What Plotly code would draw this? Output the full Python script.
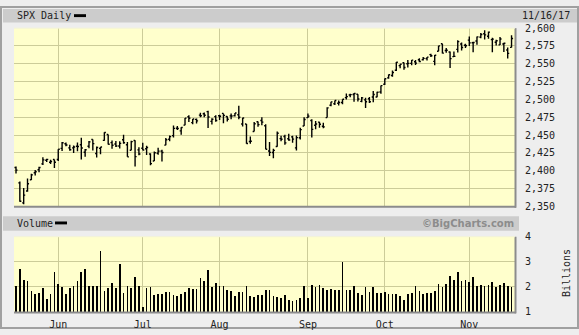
import plotly.graph_objects as go

W, H = 579, 335

dates = [
 "2017-05-16","2017-05-17","2017-05-18","2017-05-19","2017-05-22","2017-05-23","2017-05-24","2017-05-25","2017-05-26","2017-05-30","2017-05-31",
 "2017-06-01","2017-06-02","2017-06-05","2017-06-06","2017-06-07","2017-06-08","2017-06-09","2017-06-12","2017-06-13","2017-06-14","2017-06-15","2017-06-16",
 "2017-06-19","2017-06-20","2017-06-21","2017-06-22","2017-06-23","2017-06-26","2017-06-27","2017-06-28","2017-06-29","2017-06-30",
 "2017-07-03","2017-07-05","2017-07-06","2017-07-07","2017-07-10","2017-07-11","2017-07-12","2017-07-13","2017-07-14","2017-07-17",
 "2017-07-18","2017-07-19","2017-07-20","2017-07-21","2017-07-24","2017-07-25","2017-07-26","2017-07-27","2017-07-28","2017-07-31",
 "2017-08-01","2017-08-02","2017-08-03","2017-08-04","2017-08-07","2017-08-08","2017-08-09","2017-08-10","2017-08-11","2017-08-14",
 "2017-08-15","2017-08-16","2017-08-17","2017-08-18","2017-08-21","2017-08-22","2017-08-23","2017-08-24","2017-08-25","2017-08-28",
 "2017-08-29","2017-08-30","2017-08-31",
 "2017-09-01","2017-09-05","2017-09-06","2017-09-07","2017-09-08","2017-09-11","2017-09-12","2017-09-13","2017-09-14","2017-09-15",
 "2017-09-18","2017-09-19","2017-09-20","2017-09-21","2017-09-22","2017-09-25","2017-09-26","2017-09-27","2017-09-28","2017-09-29",
 "2017-10-02","2017-10-03","2017-10-04","2017-10-05","2017-10-06","2017-10-09","2017-10-10","2017-10-11","2017-10-12","2017-10-13",
 "2017-10-16","2017-10-17","2017-10-18","2017-10-19","2017-10-20","2017-10-23","2017-10-24","2017-10-25","2017-10-26","2017-10-27",
 "2017-10-30","2017-10-31",
 "2017-11-01","2017-11-02","2017-11-03","2017-11-06","2017-11-07","2017-11-08","2017-11-09","2017-11-10","2017-11-13","2017-11-14",
 "2017-11-15","2017-11-16",
]

opens = [2404.5,2382.9,2354.7,2371.4,2387.2,2397.0,2401.4,2409.5,2414.5,2411.7,2415.6,
 2415.6,2431.3,2437.8,2431.9,2432.0,2434.3,2436.4,2425.9,2434.2,2443.8,2424.1,2431.2,
 2442.5,2450.7,2439.3,2437.4,2434.7,2443.3,2436.3,2428.7,2442.4,2429.2,
 2431.4,2430.8,2423.4,2413.5,2424.5,2427.4,2435.8,2444.0,2449.2,2459.5,
 2455.9,2463.9,2475.6,2467.4,2472.0,2477.9,2479.9,2482.8,2469.1,2475.9,
 2477.1,2480.4,2476.0,2476.9,2477.1,2478.4,2465.4,2465.4,2441.0,2455.0,
 2468.7,2470.5,2463.0,2427.6,2425.5,2433.8,2444.9,2447.9,2444.7,2447.4,
 2431.9,2446.1,2462.7,
 2474.4,2470.4,2463.8,2468.1,2462.3,2474.5,2491.9,2493.9,2494.6,2495.7,
 2502.5,2506.3,2506.8,2507.2,2497.3,2499.4,2501.0,2503.3,2503.4,2510.4,
 2521.2,2530.3,2533.5,2540.9,2547.4,2551.4,2550.0,2550.6,2552.9,2555.7,
 2555.6,2557.2,2562.9,2553.4,2567.6,2578.1,2568.7,2566.5,2560.1,2570.3,
 2577.8,2576.0,
 2583.2,2579.5,2581.9,2587.5,2592.1,2588.7,2584.0,2580.2,2576.5,2577.8,
 2569.4,2573.0]

highs = [2405.8,2384.9,2375.7,2389.1,2395.5,2400.9,2405.6,2418.7,2416.7,2415.3,2415.8,
 2430.1,2440.2,2439.5,2436.2,2435.3,2439.6,2446.2,2430.4,2441.5,2443.9,2433.9,2433.2,
 2453.8,2450.7,2442.2,2441.6,2441.4,2450.4,2440.2,2442.0,2442.7,2432.7,
 2439.2,2434.9,2424.3,2426.9,2432.0,2429.3,2445.8,2449.3,2463.5,2462.8,
 2460.9,2473.8,2477.6,2472.5,2473.1,2481.2,2481.7,2484.0,2473.5,2477.9,
 2478.5,2480.4,2476.3,2480.4,2480.9,2491.0,2474.4,2465.4,2448.1,2468.2,
 2468.9,2474.9,2465.0,2440.3,2430.6,2454.8,2448.9,2450.4,2451.9,2449.1,
 2449.2,2460.3,2475.0,
 2480.4,2472.0,2469.6,2468.6,2467.1,2489.0,2496.8,2498.4,2498.4,2500.2,
 2508.3,2507.8,2508.9,2507.2,2503.5,2502.5,2503.5,2511.8,2510.8,2519.4,
 2529.2,2535.1,2540.5,2552.5,2549.4,2551.8,2555.2,2555.2,2555.3,2557.7,
 2559.5,2559.7,2564.1,2562.4,2575.4,2578.3,2572.2,2567.4,2567.1,2583.0,
 2580.0,2578.3,
 2588.4,2581.1,2588.4,2593.4,2597.0,2595.5,2586.5,2583.8,2587.7,2579.7,
 2572.8,2590.1]

lows = [2396.0,2356.2,2352.7,2370.4,2386.9,2393.3,2397.9,2408.0,2412.2,2409.4,2403.6,
 2413.5,2427.7,2434.3,2428.1,2424.8,2427.4,2415.7,2419.4,2431.3,2428.3,2418.5,2422.9,
 2441.8,2436.6,2430.7,2433.3,2431.1,2437.6,2419.4,2428.7,2405.7,2421.6,
 2428.7,2422.1,2407.7,2413.5,2422.3,2412.8,2435.8,2441.4,2446.7,2457.2,
 2450.3,2463.9,2468.4,2465.1,2466.3,2474.9,2474.9,2459.9,2464.7,2468.5,
 2471.1,2466.5,2468.9,2472.1,2475.9,2472.1,2462.1,2437.8,2437.9,2455.0,
 2461.6,2463.9,2430.0,2420.7,2417.4,2433.7,2441.4,2436.2,2441.9,2439.0,
 2428.2,2443.8,2462.7,
 2473.9,2446.6,2458.0,2460.3,2459.4,2474.5,2490.4,2492.1,2491.4,2493.2,
 2499.9,2503.2,2496.7,2497.0,2496.1,2488.0,2495.1,2495.9,2502.9,2508.0,
 2520.4,2528.9,2531.8,2540.0,2543.8,2541.6,2544.9,2548.0,2548.3,2552.1,
 2554.5,2554.7,2559.7,2547.9,2567.6,2564.3,2565.6,2544.0,2559.8,2565.9,
 2568.7,2572.2,
 2574.9,2566.2,2576.8,2585.7,2584.1,2585.0,2566.3,2575.6,2576.5,2566.6,
 2557.5,2573.0]

closes = [2400.7,2357.0,2365.7,2381.7,2394.0,2398.4,2404.4,2415.1,2415.8,2412.9,2411.8,
 2430.1,2439.1,2436.1,2429.3,2433.1,2433.8,2431.8,2429.4,2440.4,2437.9,2432.5,2433.2,
 2453.5,2437.0,2435.6,2434.5,2438.3,2439.1,2419.4,2440.7,2419.7,2423.4,
 2429.0,2432.5,2409.8,2425.2,2427.4,2425.5,2443.3,2447.8,2459.3,2459.1,
 2460.6,2473.8,2473.5,2472.5,2469.9,2477.1,2477.8,2475.4,2472.1,2470.3,
 2476.4,2477.6,2472.2,2476.8,2480.9,2474.9,2474.0,2438.2,2441.3,2465.8,
 2464.6,2468.1,2430.0,2425.6,2428.4,2452.5,2444.0,2439.0,2443.1,2444.2,
 2446.3,2457.6,2471.7,
 2476.6,2457.9,2465.5,2465.1,2461.4,2488.1,2496.5,2498.4,2495.6,2500.2,
 2503.9,2506.7,2508.2,2500.6,2502.2,2496.7,2496.8,2507.0,2510.1,2519.4,
 2529.1,2534.6,2537.7,2552.1,2549.3,2544.7,2550.6,2555.2,2550.9,2553.2,
 2557.6,2559.4,2561.3,2562.1,2575.2,2565.0,2569.1,2557.2,2560.4,2581.1,
 2572.8,2575.3,
 2579.4,2579.9,2587.8,2591.1,2590.6,2594.4,2584.6,2582.3,2584.8,2578.9,
 2564.6,2585.6]

volume_bn = [2.03,2.72,2.28,2.24,1.86,1.74,1.78,1.97,1.51,1.74,
 2.59,2.13,2.01,1.74,1.95,2.05,2.24,2.59,2.71,2.05,
 2.05,2.05,3.44,1.86,1.97,2.15,1.97,2.94,1.78,2.03,
 1.97,2.40,2.05,1.21,1.97,2.01,1.67,1.73,1.72,1.82,
 1.82,1.67,1.63,1.74,1.82,1.97,1.94,1.94,2.36,2.24,
 2.67,2.01,2.17,2.05,2.05,1.90,1.86,1.63,1.82,1.82,
 2.05,1.63,1.59,1.67,1.67,1.90,1.90,1.63,1.59,1.55,
 1.67,1.47,1.44,1.47,
 1.55,2.05,1.55,2.09,2.01,2.09,1.97,1.90,1.94,1.90,
 1.90,3.01,1.90,1.90,2.05,1.78,1.67,2.01,1.82,2.01,
 1.78,1.78,1.82,1.71,1.71,1.71,1.63,1.47,1.71,1.78,
 2.05,1.86,1.71,1.78,1.78,1.86,2.13,2.01,2.13,2.44,
 2.28,2.59,2.24,2.28,2.21,2.40,2.05,2.09,2.05,2.09,
 2.21,2.01,2.09,2.15,2.05,2.01]

month_firsts = ["2017-06-01","2017-07-03","2017-08-01","2017-09-01","2017-10-02","2017-11-01"]
month_labels = ["Jun","Jul","Aug","Sep","Oct","Nov"]
price_ticks = [2350,2375,2400,2425,2450,2475,2500,2525,2550,2575,2600]
volume_ticks = [1,2,3,4]

x = list(range(len(dates)))
month_pos = [dates.index(d) for d in month_firsts]

def px(v):
    return v / W

def py(v):
    return 1 - v / H

FONT = "DejaVu Sans Mono"
GRID = "#cccc99"
PLOT_L, PLOT_R = 14, 515
MAIN_T, MAIN_B = 23, 207.7
VOL_T, VOL_B = 239.3, 317.3

fig = go.Figure()
fig.add_trace(go.Ohlc(
    x=x, open=opens, high=highs, low=lows, close=closes,
    increasing=dict(line=dict(color="black", width=1.4)),
    decreasing=dict(line=dict(color="black", width=1.4)),
    tickwidth=0.4, xaxis="x", yaxis="y", showlegend=False, hoverinfo="skip",
))
fig.add_trace(go.Bar(
    x=x, y=volume_bn, width=0.18, marker=dict(color="black", line=dict(width=0)),
    xaxis="x2", yaxis="y2", showlegend=False, hoverinfo="skip",
))

xr = [-0.52, 129.9]
fig.update_layout(
    width=W, height=H, margin=dict(l=0, r=0, t=0, b=0),
    paper_bgcolor="#eeeeee", plot_bgcolor="#ffffcc",
    font=dict(family=FONT, size=10, color="#222222"),
    xaxis=dict(domain=[px(PLOT_L), px(PLOT_R)], range=xr, showticklabels=False,
               tickvals=month_pos, showgrid=True, gridcolor=GRID, gridwidth=1,
               zeroline=False, rangeslider=dict(visible=False), ticks=""),
    yaxis=dict(domain=[py(MAIN_B), py(MAIN_T)], range=[2350, 2600], side="right",
               tickvals=price_ticks, ticktext=[f"{v:,}" for v in price_ticks],
               showgrid=True, gridcolor=GRID, gridwidth=1, zeroline=False,
               ticks="outside", ticklen=7, tickcolor="rgba(0,0,0,0)"),
    xaxis2=dict(domain=[px(PLOT_L), px(PLOT_R)], range=xr, anchor="y2", matches="x",
                tickvals=month_pos, ticktext=month_labels, showgrid=True,
                gridcolor=GRID, gridwidth=1, zeroline=False, ticks="outside",
                ticklen=3, tickcolor="rgba(0,0,0,0)"),
    yaxis2=dict(domain=[py(VOL_B), py(VOL_T)], range=[1, 4], side="right", anchor="x2",
                tickvals=volume_ticks, showgrid=True, gridcolor=GRID, gridwidth=1,
                zeroline=False, ticks="outside", ticklen=7, tickcolor="rgba(0,0,0,0)"),
    bargap=0,
)

shapes = []
shapes.append(dict(type="rect", xref="paper", yref="paper", x0=px(1), x1=px(578), y0=py(334), y1=py(1),
                   line=dict(color="#a0a0a0", width=2), layer="below"))
shapes.append(dict(type="rect", xref="paper", yref="paper", x0=px(3), x1=px(577), y0=py(17), y1=py(3),
                   fillcolor="#cccccc", line=dict(width=0), layer="below"))
shapes.append(dict(type="rect", xref="paper", yref="paper", x0=px(3), x1=px(519), y0=py(233), y1=py(218),
                   fillcolor="#cccccc", line=dict(width=0), layer="below"))
for top, bot in [(MAIN_T, MAIN_B), (VOL_T, VOL_B)]:
    shapes.append(dict(type="line", xref="paper", yref="paper", x0=px(PLOT_L), x1=px(PLOT_R + 1),
                       y0=py(bot + 0.5), y1=py(bot + 0.5), line=dict(color="#8c8c8c", width=2)))
    shapes.append(dict(type="line", xref="paper", yref="paper", x0=px(PLOT_R + 0.5), x1=px(PLOT_R + 0.5),
                       y0=py(top), y1=py(bot + 1.5), line=dict(color="#8c8c8c", width=2)))
    shapes.append(dict(type="line", xref="paper", yref="paper", x0=px(PLOT_L), x1=px(PLOT_R),
                       y0=py(top), y1=py(top), line=dict(color="#f4f4d8", width=1)))
shapes.append(dict(type="rect", xref="paper", yref="paper", x0=px(74), x1=px(86), y0=py(11.5), y1=py(8.5),
                   fillcolor="black", line=dict(width=0)))
shapes.append(dict(type="rect", xref="paper", yref="paper", x0=px(55), x1=px(67), y0=py(226.5), y1=py(223.5),
                   fillcolor="black", line=dict(width=0)))
fig.update_layout(shapes=shapes)

ann = [
    dict(text="SPX Daily", x=px(15), y=py(10), xanchor="left", yanchor="middle"),
    dict(text="Volume", x=px(15), y=py(225.5), xanchor="left", yanchor="middle"),
    dict(text="11/16/17", x=px(572), y=py(10), xanchor="right", yanchor="middle"),
    dict(text="Billions", x=px(566), y=py(277), xanchor="center", yanchor="middle", textangle=-90),
    dict(text="©BigCharts.com", x=px(516), y=py(225.5), xanchor="right", yanchor="middle",
         font=dict(family="DejaVu Sans", size=10, color="#8c8c8c", weight="bold")),
]
for a in ann:
    a.update(xref="paper", yref="paper", showarrow=False)
    if "font" not in a:
        a["font"] = dict(family=FONT, size=10, color="#222222")
fig.update_layout(annotations=ann)

fig.write_html("out.html")
